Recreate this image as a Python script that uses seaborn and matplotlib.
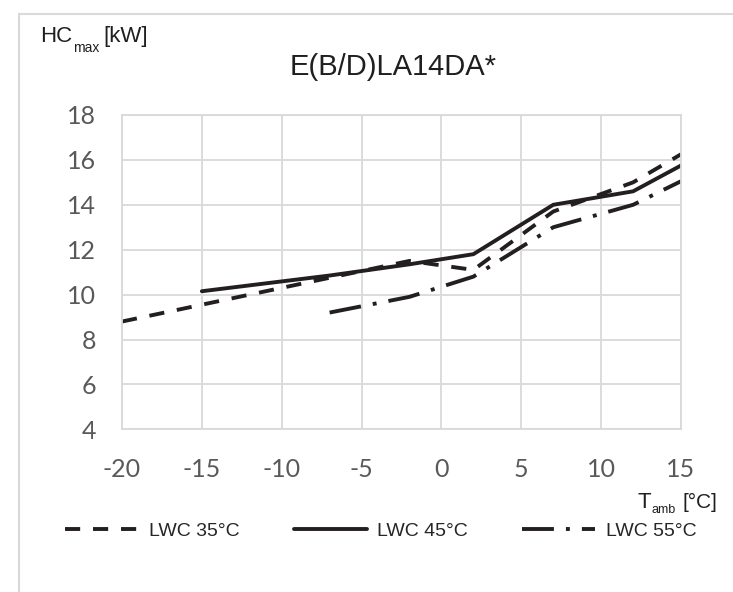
import pandas as pd
import matplotlib
matplotlib.use('Agg')
import matplotlib.pyplot as plt
from matplotlib.patches import Rectangle
import seaborn as sns

# ─── data ────────────────────────────────────────────────
T_35 = [-20, -15, -7, -2, 2, 7, 12, 15]
HC_35 = [8.8, 9.55, 10.75, 11.5, 11.1, 13.7, 15.0, 16.25]
T_45 = [-15, -7, -2, 2, 7, 12, 15]
HC_45 = [10.15, 10.85, 11.35, 11.8, 14.0, 14.6, 15.75]
T_55 = [-7, -2, 2, 7, 12, 15]
HC_55 = [9.2, 9.9, 10.8, 13.0, 14.0, 15.05]
SERIES = ["LWC 35°C", "LWC 45°C", "LWC 55°C"]
X_TICKS = [-20, -15, -10, -5, 0, 5, 10, 15]
Y_TICKS = [4, 6, 8, 10, 12, 14, 16, 18]
TITLE = "E(B/D)LA14DA*"

W, H = 733, 592
LINE = '#231f20'
GRID = '#d9d9d9'
TXT = '#1f1f1f'
NARROW = ['Liberation Sans Narrow', 'Liberation Sans', 'DejaVu Sans']

sns.set_style('white')
plt.rcParams['font.family'] = ['Lato', 'DejaVu Sans']
plt.rcParams['axes.unicode_minus'] = False

df = pd.concat([
    pd.DataFrame({'T': T_35, 'HC': HC_35, 'series': SERIES[0]}),
    pd.DataFrame({'T': T_45, 'HC': HC_45, 'series': SERIES[1]}),
    pd.DataFrame({'T': T_55, 'HC': HC_55, 'series': SERIES[2]}),
], ignore_index=True)

LW = 2.8
dashes = {SERIES[0]: (3.9, 3.3), SERIES[1]: '', SERIES[2]: (8.2, 3.1, 1.0, 3.1)}

fig = plt.figure(figsize=(W / 100, H / 100), dpi=100)
ax = fig.add_axes([122 / W, 1 - 429.3 / H, (681 - 122) / W, (429.3 - 115) / H])

sns.lineplot(data=df, x='T', y='HC', style='series', dashes=dashes,
             color=LINE, linewidth=LW, estimator=None, sort=True, ax=ax)

ax.set_xlim(-20, 15)
ax.set_ylim(4, 18)
ax.set_xticks(X_TICKS)
ax.set_yticks(Y_TICKS)
ax.grid(True, color=GRID, linewidth=1.3)
ax.set_axisbelow(True)
for s in ax.spines.values():
    s.set_color(GRID)
    s.set_linewidth(1.3)
ax.tick_params(axis='both', labelsize=18, labelcolor='#595959', color='#cfcfcf',
               length=6.5, width=1.2, direction='out')
ax.tick_params(axis='y', pad=12)
ax.tick_params(axis='x', pad=14.5)
ax.set_xlabel('')
ax.set_ylabel('')

# legend
handles, labels = ax.get_legend_handles_labels()
for h in handles:
    h.set_linewidth(LW)
    h.set_color(LINE)
ax.legend(handles, labels, loc='center left', ncol=3, frameon=False,
          bbox_to_anchor=(65 / W, 1 - 531 / H), bbox_transform=fig.transFigure,
          borderaxespad=0, borderpad=0, handlelength=3.75, handletextpad=0.55,
          columnspacing=2.8, prop={'family': NARROW, 'size': 14})

# outer frame (cut off at right and bottom like the source)
fig.patches.append(Rectangle((19 / W, -0.1), 1.2, 1.1 - 14 / H, transform=fig.transFigure,
                             fill=False, edgecolor=GRID, linewidth=1.5))

# title and axis captions
fig.text(393 / W, 1 - 75 / H, TITLE, ha='center', va='baseline',
         family=NARROW, fontsize=21, color=TXT)
fig.text(40 / W, 1 - 42 / H, 'HC', ha='left', va='baseline', family=NARROW, fontsize=16, color=TXT)
fig.text(73 / W, 1 - 52 / H, 'max', ha='left', va='baseline', family=NARROW, fontsize=10, color=TXT)
fig.text(103 / W, 1 - 42 / H, '[kW]', ha='left', va='baseline', family=NARROW, fontsize=16, color=TXT)
fig.text(638 / W, 1 - 508 / H, 'T', ha='left', va='baseline', family=NARROW, fontsize=16, color=TXT)
fig.text(651 / W, 1 - 513 / H, 'amb', ha='left', va='baseline', family=NARROW, fontsize=9, color=TXT)
fig.text(682 / W, 1 - 508 / H, '[°C]', ha='left', va='baseline', family=NARROW, fontsize=15, color=TXT)

fig.savefig('out.png', dpi=100)
plt.close(fig)
